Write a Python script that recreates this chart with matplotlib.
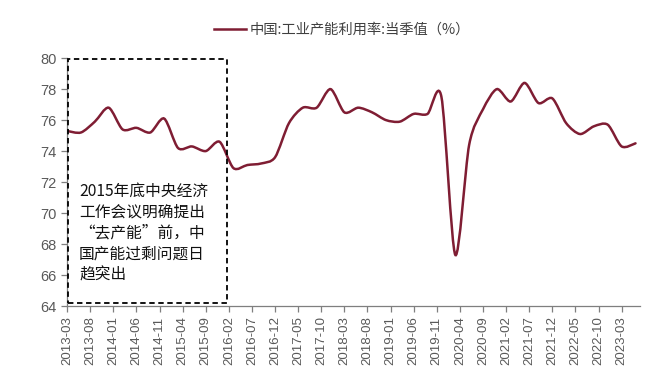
import matplotlib.pyplot as plt
import numpy as np
from matplotlib.path import Path
from matplotlib.patches import PathPatch, Rectangle
from matplotlib.lines import Line2D

plt.rcParams['font.family'] = ['Liberation Sans', 'Noto Sans CJK SC', 'DejaVu Sans']

# quarterly values, 2013-Q1 .. 2023-Q2 (plotted at quarter-end months)
quarters = ["2013-03", "2013-06", "2013-09", "2013-12",
            "2014-03", "2014-06", "2014-09", "2014-12",
            "2015-03", "2015-06", "2015-09", "2015-12",
            "2016-03", "2016-06", "2016-09", "2016-12",
            "2017-03", "2017-06", "2017-09", "2017-12",
            "2018-03", "2018-06", "2018-09", "2018-12",
            "2019-03", "2019-06", "2019-09", "2019-12",
            "2020-03", "2020-06", "2020-09", "2020-12",
            "2021-03", "2021-06", "2021-09", "2021-12",
            "2022-03", "2022-06", "2022-09", "2022-12",
            "2023-03", "2023-06"]
utilization = [75.3, 75.2, 75.9, 76.8,
               75.4, 75.5, 75.2, 76.1,
               74.2, 74.3, 74.0, 74.6,
               72.9, 73.1, 73.2, 73.6,
               75.8, 76.8, 76.8, 78.0,
               76.5, 76.8, 76.5, 76.0,
               75.9, 76.4, 76.4, 77.5,
               67.3, 74.4, 76.7, 78.0,
               77.2, 78.4, 77.1, 77.4,
               75.8, 75.1, 75.6, 75.7,
               74.3, 74.5]

tick_labels = ["2013-03", "2013-08", "2014-01", "2014-06", "2014-11",
               "2015-04", "2015-09", "2016-02", "2016-07", "2016-12",
               "2017-05", "2017-10", "2018-03", "2018-08", "2019-01",
               "2019-06", "2019-11", "2020-04", "2020-09", "2021-02",
               "2021-07", "2021-12", "2022-05", "2022-10", "2023-03"]

series_name = "中国:工业产能利用率:当季值（%）"
note = "2015年底中央经济\n工作会议明确提出\n“去产能”前，中\n国产能过剩问题日\n趋突出"

line_color = "#7f1d33"
gray = "#595959"


def month_index(label):
    y, m = label.split("-")
    return (int(y) - 2013) * 12 + int(m) - 3


def smooth_path(x, y, tension=0.14):
    """Catmull-Rom style bezier path through the data points."""
    x = np.asarray(x, float)
    y = np.asarray(y, float)
    xp = np.concatenate([[x[0]], x, [x[-1]]])
    yp = np.concatenate([[y[0]], y, [y[-1]]])
    verts = [(x[0], y[0])]
    codes = [Path.MOVETO]
    for i in range(1, len(x)):
        p0 = np.array([xp[i - 1], yp[i - 1]])
        p1 = np.array([xp[i], yp[i]])
        p2 = np.array([xp[i + 1], yp[i + 1]])
        p3 = np.array([xp[i + 2], yp[i + 2]])
        c1 = p1 + (p2 - p0) * tension
        c2 = p2 - (p3 - p1) * tension
        verts += [tuple(c1), tuple(c2), tuple(p2)]
        codes += [Path.CURVE4] * 3
    return Path(verts, codes)


fig = plt.figure(figsize=(6.71, 3.75), dpi=100)
ax = fig.add_axes([0.1, 0.184, 0.854, 0.661])

xs = [month_index(q) for q in quarters]
ax.add_patch(PathPatch(smooth_path(xs, utilization), facecolor="none",
                       edgecolor=line_color, lw=1.8, capstyle="round"))

ax.set_xlim(0, 124)
ax.set_ylim(64, 80)
ax.set_yticks(np.arange(64, 81, 2))
ax.set_xticks([month_index(t) for t in tick_labels])
ax.set_xticklabels(tick_labels, rotation=90)

for side in ["top", "right"]:
    ax.spines[side].set_visible(False)
for side in ["left", "bottom"]:
    ax.spines[side].set_color("#7f7f7f")
    ax.spines[side].set_linewidth(0.9)
ax.tick_params(axis="both", colors="#7f7f7f", labelcolor=gray, length=4, width=0.9)
ax.tick_params(axis="y", labelsize=10.5)
ax.tick_params(axis="x", labelsize=9.5)

# dashed annotation box
ax.add_patch(Rectangle((0.3, 64.2), 34.3, 15.75, fill=False, ls=(0, (3, 2)),
                       lw=1.3, edgecolor="black", zorder=3))
ax.text(2.6, 71.95, note, ha="left", va="top", fontsize=11.3, linespacing=1.3,
        family=["Noto Sans CJK SC", "DejaVu Sans"], color="#111111")

handle = Line2D([], [], color=line_color, lw=1.8)
fig.legend([handle], [series_name], loc="center", bbox_to_anchor=(0.51, 0.92),
           frameon=False, handlelength=2.2, handletextpad=0.3,
           labelcolor="#404040", prop={"family": ["Noto Sans CJK SC", "DejaVu Sans"], "size": 10.3})

fig.savefig("out.png", dpi=100)
